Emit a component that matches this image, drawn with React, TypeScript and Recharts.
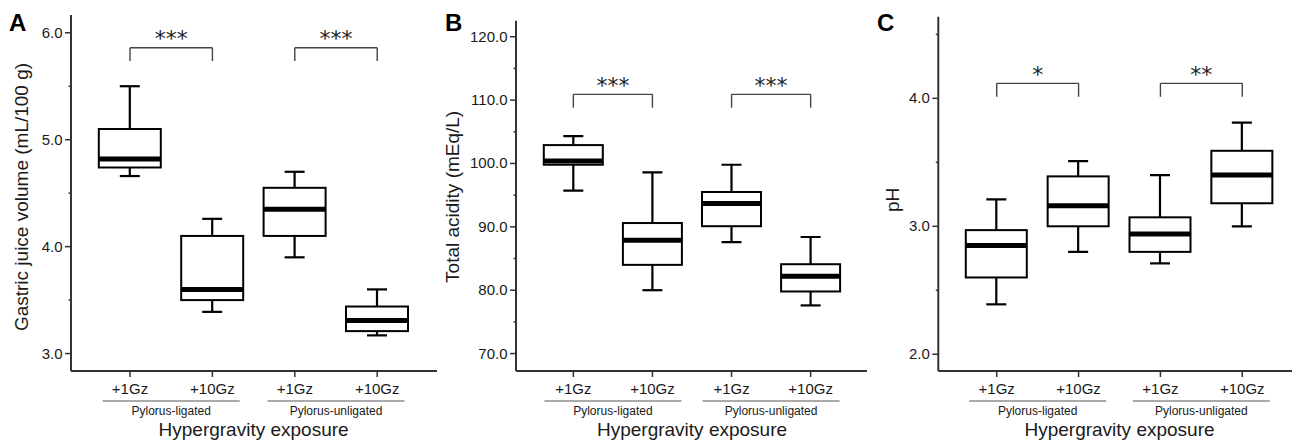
import React from "react";
import { ComposedChart, Bar, XAxis, YAxis, ReferenceLine } from "recharts";

const categoryKeys = ["L1", "L10", "U1", "U10"];
const categoryLabels = ["+1Gz", "+10Gz", "+1Gz", "+10Gz"];
const groupLabels = ["Pylorus-ligated", "Pylorus-ligated", "Pylorus-unligated", "Pylorus-unligated"];

// A: gastric juice volume (mL/100 g)
const volumeMin = [4.66, 3.39, 3.9, 3.17];
const volumeQ1 = [4.74, 3.5, 4.1, 3.21];
const volumeMedian = [4.82, 3.6, 4.35, 3.31];
const volumeQ3 = [5.1, 4.1, 4.55, 3.44];
const volumeMax = [5.5, 4.26, 4.7, 3.6];
const volumeMajorTicks = [3, 4, 5, 6];
const volumeMinorTicks = [3.5, 4.5, 5.5];

// B: total acidity (mEq/L)
const acidityMin = [95.7, 80.0, 87.6, 77.6];
const acidityQ1 = [99.8, 84.0, 90.1, 79.8];
const acidityMedian = [100.4, 87.9, 93.7, 82.2];
const acidityQ3 = [102.9, 90.6, 95.5, 84.1];
const acidityMax = [104.3, 98.6, 99.8, 88.4];
const acidityMajorTicks = [70, 80, 90, 100, 110, 120];
const acidityMinorTicks = [75, 85, 95, 105, 115];

// C: pH
const phMin = [2.39, 2.8, 2.71, 3.0];
const phQ1 = [2.6, 3.0, 2.8, 3.18];
const phMedian = [2.85, 3.16, 2.94, 3.4];
const phQ3 = [2.97, 3.39, 3.07, 3.59];
const phMax = [3.21, 3.51, 3.4, 3.81];
const phMajorTicks = [2, 3, 4];
const phMinorTicks = [2.5, 3.5, 4.5];

const volumeBrackets = [
  { from: "L1", to: "L10", y: 5.86, drop: 5.735, sig: "***" },
  { from: "U1", to: "U10", y: 5.86, drop: 5.735, sig: "***" },
];
const acidityBrackets = [
  { from: "L1", to: "L10", y: 110.9, drop: 108.8, sig: "***" },
  { from: "U1", to: "U10", y: 110.9, drop: 108.8, sig: "***" },
];
const phBrackets = [
  { from: "L1", to: "L10", y: 4.117, drop: 4.012, sig: "*" },
  { from: "U1", to: "U10", y: 4.117, drop: 4.012, sig: "**" },
];

const FONT = "'Liberation Sans', Arial, sans-serif";
const TEXT = "#1a1a1a";
const AXIS = "#333";

const makeRows = (min, q1, med, q3, max) =>
  categoryKeys.map((key, i) => ({
    key,
    group: groupLabels[i],
    min: min[i],
    q1: q1[i],
    median: med[i],
    q3: q3[i],
    max: max[i],
    range: [min[i], max[i]],
  }));

const BoxShape = (props) => {
  const { x, y, width, height, payload } = props;
  const top = Math.min(y, y + height);
  const h = Math.abs(height);
  const toPx = (v) => top + ((payload.max - v) / (payload.max - payload.min)) * h;
  const cx = x + width / 2;
  const cap = 10;
  return (
    <g>
      <line x1={cx} x2={cx} y1={toPx(payload.max)} y2={toPx(payload.q3)} stroke="#000" strokeWidth={2.2} />
      <line x1={cx} x2={cx} y1={toPx(payload.q1)} y2={toPx(payload.min)} stroke="#000" strokeWidth={2.2} />
      <line x1={cx - cap} x2={cx + cap} y1={toPx(payload.max)} y2={toPx(payload.max)} stroke="#000" strokeWidth={2.2} />
      <line x1={cx - cap} x2={cx + cap} y1={toPx(payload.min)} y2={toPx(payload.min)} stroke="#000" strokeWidth={2.2} />
      <rect
        x={x}
        y={toPx(payload.q3)}
        width={width}
        height={toPx(payload.q1) - toPx(payload.q3)}
        fill="#fff"
        stroke="#000"
        strokeWidth={2}
      />
      <line x1={x} x2={x + width} y1={toPx(payload.median)} y2={toPx(payload.median)} stroke="#000" strokeWidth={5} />
    </g>
  );
};

const CategoryTick = ({ x, y, payload }) => (
  <text x={x} y={y + 17} textAnchor="middle" fontSize={15} fill={TEXT} fontFamily={FONT}>
    {categoryLabels[categoryKeys.indexOf(payload.value)]}
  </text>
);

const GroupTick = ({ x, y, payload }) => (
  <g>
    <line x1={x - 68.5} x2={x + 68.5} y1={y + 5} y2={y + 5} stroke="#555" strokeWidth={1} />
    <text x={x} y={y + 18.5} textAnchor="middle" fontSize={12} fill={TEXT} fontFamily={FONT}>
      {payload.value}
    </text>
  </g>
);

const makeYTick = (majors) => ({ x, y, payload }) => {
  const major = majors.includes(payload.value);
  return (
    <g>
      <line x1={x} x2={x - (major ? 6 : 2.5)} y1={y} y2={y} stroke={AXIS} strokeWidth={1.5} />
      {major && (
        <text x={x - 8.5} y={y + 5} textAnchor="end" fontSize={15} fill={TEXT} fontFamily={FONT}>
          {payload.value.toFixed(1)}
        </text>
      )}
    </g>
  );
};

const Panel = ({
  left,
  width,
  letter,
  letterX,
  rows,
  domain,
  majors,
  minors,
  yLabel,
  yLabelX,
  yLabelDy,
  brackets,
  barSize,
  padding,
  yAxisWidth,
  top,
}) => (
  <div style={{ position: "absolute", left, top: 0, width, height: 441 }}>
    <ComposedChart width={width} height={441} data={rows} margin={{ top, right: 0, bottom: 0, left: 0 }}>
      <XAxis
        xAxisId="cat"
        dataKey="key"
        type="category"
        padding={padding}
        height={25}
        axisLine={{ stroke: AXIS, strokeWidth: 2 }}
        tickLine={{ stroke: AXIS, strokeWidth: 1.5 }}
        tickSize={6}
        tickMargin={0}
        tick={<CategoryTick />}
        interval={0}
      />
      <XAxis
        xAxisId="grp"
        dataKey="group"
        type="category"
        allowDuplicatedCategory={false}
        padding={padding}
        height={45}
        axisLine={false}
        tickLine={false}
        tickSize={0}
        tickMargin={0}
        tick={<GroupTick />}
        interval={0}
        label={{
          content: ({ viewBox }) => {
            const cx = viewBox.x + padding.left + (viewBox.width - padding.left - padding.right) / 2;
            return (
              <text x={cx} y={viewBox.y + 40} textAnchor="middle" fontSize={19} fill={TEXT} fontFamily={FONT}>
                Hypergravity exposure
              </text>
            );
          },
        }}
      />
      <YAxis
        type="number"
        domain={domain}
        allowDataOverflow
        ticks={[...majors, ...minors].sort((a, b) => a - b)}
        interval={0}
        width={yAxisWidth}
        axisLine={{ stroke: AXIS, strokeWidth: 2 }}
        tickLine={false}
        tickSize={0}
        tickMargin={0}
        tick={makeYTick(majors)}
        label={{
          content: ({ viewBox }) => {
            const lx = viewBox.x + yLabelX;
            const ly = viewBox.y + viewBox.height / 2 + yLabelDy;
            return (
              <text
                x={lx}
                y={ly}
                transform={`rotate(-90 ${lx} ${ly})`}
                textAnchor="middle"
                dominantBaseline="central"
                fontSize={19}
                fill={TEXT}
                fontFamily={FONT}
              >
                {yLabel}
              </text>
            );
          },
        }}
      />
      <Bar
        xAxisId="cat"
        dataKey="range"
        barSize={barSize}
        shape={<BoxShape />}
        isAnimationActive={false}
      />
      {brackets.map((b, i) => (
        <ReferenceLine
          key={`h${i}`}
          xAxisId="cat"
          segment={[
            { x: b.from, y: b.y },
            { x: b.to, y: b.y },
          ]}
          stroke="#444"
          strokeWidth={1.4}
          label={{
            content: ({ viewBox }) => (
              <text
                x={viewBox.x + viewBox.width / 2}
                y={viewBox.y - 1.5}
                textAnchor="middle"
                fontSize={22}
                fill="#222"
                fontFamily="'DejaVu Sans', sans-serif"
              >
                {b.sig}
              </text>
            ),
          }}
        />
      ))}
      {brackets.map((b, i) => (
        <ReferenceLine
          key={`l${i}`}
          xAxisId="cat"
          segment={[
            { x: b.from, y: b.y },
            { x: b.from, y: b.drop },
          ]}
          stroke="#444"
          strokeWidth={1.4}
        />
      ))}
      {brackets.map((b, i) => (
        <ReferenceLine
          key={`r${i}`}
          xAxisId="cat"
          segment={[
            { x: b.to, y: b.y },
            { x: b.to, y: b.drop },
          ]}
          stroke="#444"
          strokeWidth={1.4}
        />
      ))}
    </ComposedChart>
    <div
      style={{
        position: "absolute",
        left: letterX,
        top: 9,
        fontFamily: FONT,
        fontWeight: "bold",
        fontSize: 24,
        lineHeight: "28px",
        color: "#000",
      }}
    >
      {letter}
    </div>
  </div>
);

export default function App() {
  return (
    <div style={{ position: "absolute", left: 0, top: 0, width: 1292, height: 441, background: "#fff", overflow: "hidden" }}>
      <Panel
        left={0}
        width={437}
        letter="A"
        letterX={9}
        rows={makeRows(volumeMin, volumeQ1, volumeMedian, volumeQ3, volumeMax)}
        domain={[2.837, 6.166]}
        majors={volumeMajorTicks}
        minors={volumeMinorTicks}
        yLabel="Gastric juice volume (mL/100 g)"
        yLabelX={21}
        yLabelDy={4}
        brackets={volumeBrackets}
        barSize={62}
        padding={{ left: 17.8, right: 18.6 }}
        yAxisWidth={71}
        top={15}
      />
      <Panel
        left={437}
        width={430}
        letter="B"
        letterX={8}
        rows={makeRows(acidityMin, acidityQ1, acidityMedian, acidityQ3, acidityMax)}
        domain={[67.25, 122.53]}
        majors={acidityMajorTicks}
        minors={acidityMinorTicks}
        yLabel="Total acidity (mEq/L)"
        yLabelX={16}
        yLabelDy={1}
        brackets={acidityBrackets}
        barSize={59}
        padding={{ left: 17.8, right: 16.8 }}
        yAxisWidth={79}
        top={20.7}
      />
      <Panel
        left={867}
        width={425}
        letter="C"
        letterX={10}
        rows={makeRows(phMin, phQ1, phMedian, phQ3, phMax)}
        domain={[1.869, 4.638]}
        majors={phMajorTicks}
        minors={phMinorTicks}
        yLabel="pH"
        yLabelX={26}
        yLabelDy={6}
        brackets={phBrackets}
        barSize={61}
        padding={{ left: 17.5, right: 8.8 }}
        yAxisWidth={71.3}
        top={16.7}
      />
    </div>
  );
}
